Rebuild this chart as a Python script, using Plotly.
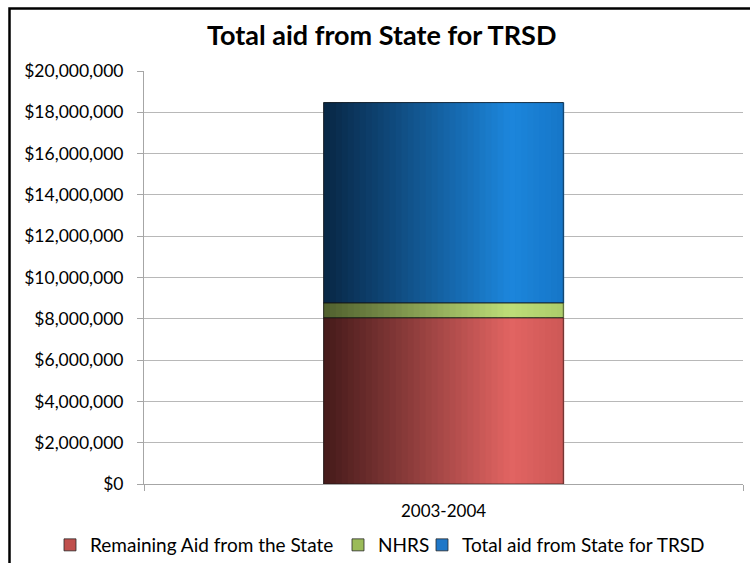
import numpy as np
import plotly.graph_objects as go

categories = ["2003-2004"]
series_names = ["Remaining Aid from the State", "NHRS", "Total aid from State for TRSD"]
remaining_aid = [8050000]
nhrs = [720000]
total_aid = [9700000]
series_values = [remaining_aid, nhrs, total_aid]

legend_colors = ["#C0504D", "#9BBB59", "#1F77C8"]
legend_x = [50 / 750, 338 / 750, 422 / 750]
# gradient stops: (dark left, light at 78%, right edge)
grad = [
    [(68, 26, 26), (226, 100, 98), (205, 88, 86)],
    [(80, 96, 46), (190, 222, 120), (172, 204, 106)],
    [(8, 38, 68), (28, 134, 220), (22, 118, 200)],
]

FONT = "Lato"
BAR_W = 0.4
N = 40

def color_at(stops, t):
    a, b, c = [np.array(s, float) for s in stops]
    if t <= 0.78:
        f = t / 0.78
        col = a + (b - a) * f
    else:
        f = (t - 0.78) / 0.22
        col = b + (c - b) * f
    return "rgb(%d,%d,%d)" % tuple(np.round(col).astype(int))

fig = go.Figure()

legend_ids = ["legend", "legend2", "legend3"]

# legend-bearing flat traces (underneath)
bases = np.zeros(len(categories))
base_list = []
for name, vals, col, lid in zip(series_names, series_values, legend_colors, legend_ids):
    base_list.append(bases.copy())
    fig.add_trace(go.Bar(x=categories, y=vals, base=bases.copy(), name=name,
                         marker=dict(color=col, line=dict(color="rgba(40,40,40,0.8)", width=1)),
                         width=BAR_W, showlegend=True, legend=lid, hoverinfo="skip"))
    bases = bases + np.array(vals)

# gradient slices
w = BAR_W / N
for (name, vals, stops, base) in zip(series_names, series_values, grad, base_list):
    for i in range(N):
        t = (i + 0.5) / N
        fig.add_trace(go.Bar(x=categories, y=vals, base=base, width=w * 1.15,
                             offset=-BAR_W / 2 + i * w,
                             marker=dict(color=color_at(stops, t), line=dict(width=0)),
                             showlegend=False, hoverinfo="skip"))

# outlines on top
for (name, vals, base) in zip(series_names, series_values, base_list):
    fig.add_trace(go.Bar(x=categories, y=vals, base=base, width=BAR_W,
                         marker=dict(color="rgba(0,0,0,0)",
                                     line=dict(color="rgba(20,20,20,0.6)", width=1)),
                         showlegend=False, hoverinfo="skip"))

leg_common = dict(orientation="h", xref="container", yref="container", xanchor="left",
                  y=1 - 545 / 563, yanchor="middle",
                  font=dict(family=FONT, size=19, color="black"),
                  itemwidth=30, bgcolor="rgba(0,0,0,0)")

fig.update_layout(
    width=750, height=563,
    barmode="overlay",
    paper_bgcolor="white", plot_bgcolor="white",
    margin=dict(l=144, r=7, t=71, b=79, autoexpand=False),
    font=dict(family=FONT, size=17, color="black"),
    title=dict(text="<b>Total aid from State for TRSD</b>", x=0.509, xref="container",
               xanchor="center", y=1 - 36 / 563, yanchor="middle", yref="container",
               font=dict(family=FONT, size=27, color="black")),
    legend=dict(x=legend_x[0], **leg_common),
    legend2=dict(x=legend_x[1], **leg_common),
    legend3=dict(x=legend_x[2], **leg_common),
    xaxis=dict(showline=True, linecolor="#A6A6A6", linewidth=1, ticks="outside",
               tickson="boundaries", ticklen=6, tickcolor="#A6A6A6",
               ticklabelstandoff=12,
               tickfont=dict(family=FONT, size=17), showgrid=False),
    yaxis=dict(range=[0, 20000000], dtick=2000000, tickformat="$,.0f",
               showline=True, linecolor="#A6A6A6", linewidth=1, ticks="outside",
               ticklen=6, tickcolor="#A6A6A6", showgrid=True, gridcolor="#B8B8B8",
               ticklabelstandoff=10,
               gridwidth=1, zeroline=False, tickfont=dict(family=FONT, size=17.5)),
    shapes=[dict(type="rect", xref="paper", yref="paper",
                 x0=(9.5 - 144) / 599, x1=(820 - 144) / 599,
                 y0=(484 - 620) / 413, y1=(484 - 8.5) / 413,
                 line=dict(color="black", width=2.5), fillcolor="rgba(0,0,0,0)",
                 layer="below")],
)

fig.write_html("out.html")
